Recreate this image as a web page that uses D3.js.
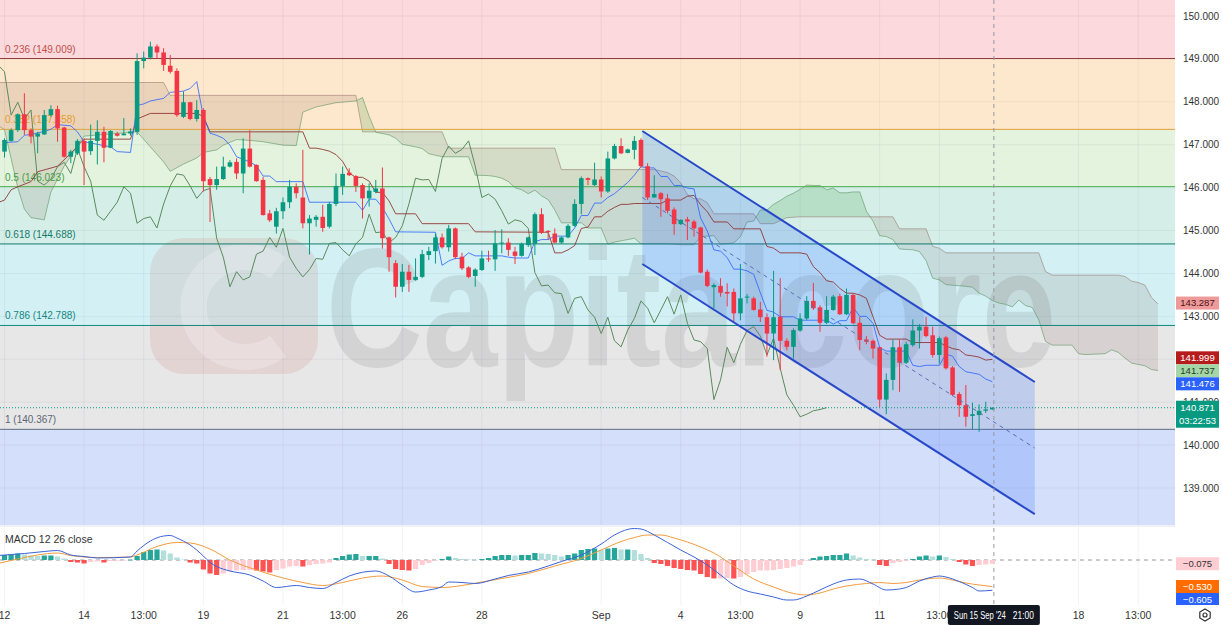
<!DOCTYPE html>
<html><head><meta charset="utf-8">
<script src="https://cdnjs.cloudflare.com/ajax/libs/d3/7.8.5/d3.min.js"></script>
<style>html,body{margin:0;padding:0;background:#fff;}svg{display:block;font-family:"Liberation Sans",Arial,sans-serif;}</style>
</head><body><svg id="c" width="1221" height="625"></svg>
<script>
// ---------------- DATA (4H candles, bar index 0 = 12 Aug 01:00) ----------------
const opens = [
146.84,147.09,147.34,147.71,147.34,147.19,147.24,147.69,147.83,147.40,
146.72,146.80,147.09,146.85,147.09,147.30,146.93,147.26,147.22,147.26,
147.30,148.95,149.03,149.29,149.15,148.84,148.72,147.65,147.99,147.60,
147.81,146.20,146.06,146.20,146.49,146.60,146.33,146.91,146.53,146.18,
145.40,145.09,145.45,145.66,146.02,145.77,145.17,145.25,145.32,145.09,
145.62,146.04,146.35,146.27,146.06,145.75,145.90,145.98,144.84,144.24,
143.69,144.04,143.85,143.92,144.43,144.52,144.84,144.61,145.05,144.39,
144.14,143.94,144.08,144.35,144.33,144.70,144.72,144.51,144.41,144.66,
144.69,145.38,144.99,144.93,144.72,144.84,145.11,145.62,146.22,146.06,
146.19,145.91,146.68,146.97,146.81,146.88,147.11,146.50,145.77,145.87,
145.75,145.49,145.15,145.26,145.21,145.07,144.04,143.68,143.71,143.57,
143.57,143.07,143.44,143.42,143.16,142.98,142.60,142.99,142.43,142.29,
142.67,142.95,143.36,143.21,142.85,143.15,143.47,143.05,143.50,142.85,
142.46,142.43,142.28,141.06,141.52,142.28,141.92,142.33,142.67,142.76,
142.56,142.10,142.51,141.81,141.19,140.93,140.68,140.70,140.80,140.83];
const highs = [
147.15,147.38,147.73,148.20,147.38,147.30,147.81,147.92,147.91,147.42,
146.88,147.13,147.15,147.47,147.57,147.42,147.34,147.30,147.62,147.38,
149.13,149.17,149.40,149.34,149.25,149.09,148.78,148.24,148.00,148.04,
147.85,146.25,146.49,146.72,146.64,146.68,147.15,147.34,146.54,146.25,
145.48,145.53,145.77,146.18,146.10,146.88,145.36,145.36,145.60,145.67,
146.33,146.49,146.45,146.29,146.10,146.10,146.18,146.47,144.86,144.31,
144.22,144.20,144.35,144.55,144.62,144.93,144.93,145.13,145.07,144.48,
144.17,144.12,144.53,144.53,145.01,145.03,144.82,144.62,144.72,144.86,
145.42,145.52,145.01,145.05,144.86,145.15,145.73,146.26,146.24,146.58,
146.26,146.84,147.02,147.15,146.91,147.20,147.15,146.57,146.29,145.90,
145.85,145.54,145.26,145.32,145.25,145.09,144.09,143.77,143.89,143.77,
143.65,144.22,143.52,143.46,143.34,143.07,144.06,143.89,142.49,142.72,
143.07,143.47,143.78,143.26,143.47,143.50,143.53,143.65,143.53,142.99,
142.54,142.46,142.29,141.67,142.46,142.46,142.41,142.93,142.82,142.99,
142.76,142.53,142.54,141.84,141.24,141.40,140.99,140.95,141.01,140.88];
const lows = [
146.70,147.07,147.30,147.23,147.03,146.80,147.23,147.65,147.07,146.70,
146.57,146.76,146.06,146.76,146.54,146.59,146.92,147.19,147.22,147.21,
147.23,148.78,148.99,149.01,148.72,148.66,147.65,147.62,147.57,147.54,
145.91,145.20,145.95,146.18,146.47,146.20,145.87,146.47,146.14,145.35,
145.20,144.93,145.27,145.52,145.75,145.05,144.44,145.09,144.97,145.05,
145.57,145.83,146.27,145.90,145.28,145.56,145.87,144.58,144.04,143.44,
143.57,143.57,143.83,143.89,144.31,144.23,144.58,144.51,144.33,144.08,
143.89,143.69,144.06,144.27,144.06,144.47,144.41,144.22,144.39,144.62,
144.43,144.92,144.78,144.70,144.69,144.82,145.09,145.38,146.06,146.04,
145.77,145.88,146.66,146.78,146.80,146.66,146.45,145.71,145.77,145.32,
145.40,144.90,145.13,144.78,144.86,144.00,143.68,143.19,143.46,143.23,
142.87,142.91,143.30,143.13,142.87,142.06,141.98,141.75,142.21,142.02,
142.64,142.91,143.15,142.64,142.82,143.13,143.03,143.03,142.82,142.21,
142.35,142.02,140.89,140.72,141.28,141.24,141.89,142.29,142.25,142.51,
142.04,141.90,141.76,141.14,140.66,140.43,140.37,140.31,140.75,140.82];
const closes = [
147.11,147.34,147.71,147.34,147.19,147.26,147.69,147.83,147.38,146.72,
146.84,147.09,146.84,147.09,147.30,146.93,147.32,147.21,147.26,147.31,
148.95,149.03,149.29,149.15,148.86,148.70,147.69,147.99,147.60,147.81,
146.15,146.06,146.20,146.49,146.59,146.33,146.91,146.49,146.15,145.36,
145.24,145.45,145.66,146.02,145.87,145.17,145.28,145.32,145.06,145.62,
146.04,146.32,146.29,146.04,145.75,145.93,145.98,144.82,144.38,143.69,
144.04,143.85,143.92,144.45,144.52,144.84,144.61,145.05,144.38,144.12,
143.92,144.09,144.35,144.33,144.70,144.72,144.55,144.41,144.69,144.84,
145.38,144.95,144.97,144.72,144.84,145.11,145.62,146.22,146.18,146.19,
145.91,146.68,146.97,146.80,146.89,147.09,146.50,145.77,145.85,145.73,
145.46,145.15,145.25,145.21,145.05,144.02,143.71,143.73,143.55,143.53,
143.07,143.42,143.46,143.15,142.98,142.60,142.98,142.43,142.29,142.68,
142.95,143.36,143.19,142.85,143.15,143.46,143.05,143.50,142.84,142.45,
142.41,142.25,141.06,141.52,142.28,141.92,142.35,142.67,142.76,142.54,
142.10,142.49,141.79,141.17,140.93,140.66,140.72,140.80,140.83,140.871];

// Ichimoku lines, read as [bar index, price] vertices
const tenkan = [[0,147.05],[2,147.07],[3,147.22],[4,147.24],[6,147.31],[7,147.36],[8,147.47],[10,147.44],[11,147.30],[12,147.07],[14,147.01],[16,146.95],[17,146.84],[19,146.82],[20,147.92],[21,147.95],[22,148.02],[24,148.08],[25,148.22],[27,148.25],[28,148.31],[29,148.47],[30,147.65],[31,147.27],[32,147.22],[33,147.15],[34,146.99],[35,146.72],[37,146.60],[38,146.51],[39,146.27],[40,146.27],[41,146.14],[45,146.14],[46,145.66],[53,145.66],[54,145.47],[55,145.73],[56,145.73],[57,145.54],[58,145.27],[59,144.97],[65,144.96],[66,144.19],[67,144.29],[68,144.35],[69,144.35],[70,144.48],[71,144.41],[75,144.41],[76,144.38],[77,144.36],[79,144.36],[80,144.74],[81,144.79],[82,144.79],[83,144.87],[85,144.87],[86,145.06],[87,145.35],[88,145.35],[89,145.64],[90,145.64],[91,145.77],[92,145.86],[93,145.99],[94,146.12],[95,146.29],[96,146.49],[97,146.46],[98,146.46],[99,146.26],[100,146.26],[101,146.05],[102,146.05],[103,145.99],[104,145.97],[105,145.29],[106,144.99],[107,144.55],[108,144.52],[109,144.37],[110,144.10],[111,144.10],[112,144.06],[113,143.98],[114,143.55],[115,143.14],[116,143.10],[117,142.99],[119,142.99],[120,142.91],[124,142.91],[125,142.82],[126,142.90],[127,142.90],[128,143.21],[129,143.00],[130,143.00],[131,142.84],[132,142.27],[133,142.19],[136,142.19],[137,141.86],[138,141.83],[139,141.86],[141,141.86],[142,142.12],[143,142.07],[144,141.83],[145,141.71],[146,141.68],[147,141.65],[148,141.54],[149,141.476]];
const kijun = [[-1,145.65],[0,145.71],[1,145.95],[2,146.02],[4,146.14],[5,146.37],[8,146.5],[10,146.8],[12,147.13],[19,147.13],[20,147.6],[22,147.73],[29,147.73],[30,147.66],[31,147.30],[45,147.30],[46,146.92],[47,146.92],[48,146.89],[49,146.85],[50,146.77],[51,146.61],[52,146.34],[53,146.24],[54,146.24],[55,146.15],[56,145.89],[57,145.89],[58,145.69],[59,145.39],[62,145.39],[63,145.16],[70,145.16],[71,144.97],[82,144.96],[83,144.48],[84,144.48],[85,144.55],[86,144.65],[87,145.05],[88,145.08],[89,145.32],[90,145.32],[91,145.45],[92,145.54],[93,145.61],[94,145.61],[95,145.63],[99,145.63],[100,145.71],[102,145.71],[103,145.80],[104,145.82],[105,145.60],[106,145.44],[107,145.20],[109,145.20],[110,145.04],[114,145.04],[115,144.63],[116,144.59],[117,144.48],[120,144.48],[121,144.45],[122,144.16],[123,144.02],[124,143.83],[125,143.80],[126,143.65],[127,143.54],[128,143.54],[129,143.50],[130,143.42],[131,142.99],[132,142.56],[133,142.47],[136,142.47],[137,142.39],[141,142.39],[142,142.31],[143,142.25],[144,142.22],[145,142.10],[146,142.08],[147,142.05],[148,141.98],[149,141.999]];
const spanA = [[-1,147.45],[0,147.35],[2,146.0],[3,145.5],[4,145.3],[6,145.25],[7,145.9],[9,146.5],[12,147.2],[20,147.3],[24,146.6],[25,146.38],[27,146.55],[29,146.69],[30,146.82],[32,146.88],[33,146.99],[35,147.12],[37,147.10],[39,147.07],[42,146.99],[44,146.98],[45,147.76],[47,147.88],[50,147.98],[53,148.02],[54,148.10],[55,147.66],[56,147.29],[58,147.23],[59,147.15],[60,147.01],[62,146.95],[63,146.91],[64,146.79],[66,146.72],[70,146.72],[71,146.29],[73,146.28],[74,146.26],[75,146.22],[76,146.14],[77,146.0],[78,145.95],[79,145.86],[80,145.94],[81,145.81],[82,145.72],[83,145.48],[84,145.18],[87,145.18],[88,145.06],[90,145.06],[91,144.68],[92,144.73],[93,144.76],[95,144.82],[96,144.69],[100,144.69],[102,144.67],[104,144.67],[105,144.86],[107,144.88],[108,144.68],[110,144.71],[111,144.86],[112,145.20],[113,145.22],[114,145.48],[115,145.48],[116,145.61],[117,145.70],[118,145.80],[119,145.87],[120,145.96],[121,146.06],[122,146.05],[123,146.05],[124,145.95],[125,145.99],[126,145.88],[127,145.88],[128,145.90],[129,145.90],[130,145.45],[131,145.22],[132,144.88],[133,144.86],[134,144.79],[135,144.57],[137,144.55],[138,144.51],[139,144.30],[140,143.89],[141,143.85],[142,143.74],[145,143.70],[146,143.68],[147,143.54],[148,143.47],[149,143.37],[150,143.31],[151,143.28],[152,143.22],[153,143.38],[154,143.25],[155,143.21],[156,142.92],[157,142.42],[158,142.33],[161,142.33],[162,142.13],[163,142.11],[166,142.13],[167,142.22],[168,142.16],[169,142.03],[170,141.91],[171,141.88],[172,141.85],[173,141.76],[174,141.737]];
const spanB = [[-1,148.45],[24,148.45],[25,148.15],[53,148.15],[54,147.30],[66,147.30],[67,146.92],[83,146.92],[84,146.42],[98,146.42],[99,146.39],[100,146.35],[101,146.27],[102,146.11],[103,145.84],[104,145.74],[105,145.74],[106,145.65],[107,145.39],[113,145.39],[114,145.16],[116,145.16],[117,145.23],[118,145.30],[120,145.32],[134,145.32],[135,145.04],[139,145.04],[140,144.63],[141,144.59],[142,144.48],[156,144.48],[157,144.05],[158,143.96],[168,143.96],[169,143.93],[170,143.82],[171,143.79],[172,143.73],[173,143.44],[174,143.287]];
const laggingShift = 25;

// Fibonacci retracement
const fibLevels = ["0.236","0.382","0.5","0.618","0.786","1"];
const fibPrices = [149.009,147.358,146.023,144.688,142.788,140.367];
// Descending channel drawing: [bar index, price]
const chanUpper = [[96.2,147.32],[155.4,141.47]];
const chanLower = [[96.2,144.22],[155.4,138.39]];

// MACD 12 26
const macdHist = [
0.10,0.11,0.13,0.11,0.09,0.08,0.09,0.09,0.07,0.03,
-0.04,-0.05,-0.07,-0.04,-0.03,-0.05,-0.02,-0.015,-0.01,0.005,
0.08,0.16,0.20,0.21,0.19,0.13,0.05,0.01,-0.05,-0.07,
-0.19,-0.27,-0.30,-0.27,-0.23,-0.21,-0.20,-0.20,-0.21,-0.23,
-0.25,-0.20,-0.17,-0.13,-0.12,-0.13,-0.10,-0.08,-0.07,-0.05,
0.04,0.08,0.11,0.12,0.08,0.08,0.08,0.03,-0.08,-0.18,
-0.20,-0.21,-0.18,-0.10,-0.06,-0.01,0.02,0.07,0.04,0.02,
0.01,0.005,0.02,0.04,0.08,0.10,0.10,0.09,0.10,0.10,
0.14,0.13,0.12,0.10,0.07,0.10,0.13,0.20,0.22,0.23,
0.20,0.23,0.24,0.21,0.21,0.20,0.12,0.04,-0.06,-0.08,
-0.12,-0.16,-0.18,-0.20,-0.21,-0.28,-0.34,-0.37,-0.37,-0.36,
-0.37,-0.34,-0.28,-0.24,-0.21,-0.21,-0.20,-0.18,-0.16,-0.13,
-0.10,-0.005,0.04,0.07,0.08,0.10,0.10,0.13,0.09,0.05,
0.02,0.005,-0.10,-0.12,-0.06,-0.04,-0.005,0.02,0.07,0.09,
0.07,0.09,0.06,0.02,-0.04,-0.09,-0.12,-0.10,-0.09,-0.075];
const macdLine = [[-1,0.09],[3,0.13],[6,0.17],[8,0.19],[10,0.10],[12,0.07],[14,0.04],[19,0.06],[20,0.18],[22,0.38],[24,0.48],[25,0.49],[26,0.44],[28,0.30],[30,0.08],[31,-0.05],[32,-0.13],[34,-0.22],[37,-0.30],[39,-0.42],[41,-0.55],[44,-0.51],[46,-0.55],[48,-0.57],[50,-0.45],[52,-0.32],[56,-0.22],[58,-0.32],[60,-0.50],[62,-0.64],[64,-0.60],[66,-0.53],[67,-0.44],[69,-0.45],[71,-0.47],[74,-0.38],[76,-0.31],[79,-0.24],[82,-0.12],[84,-0.03],[87,0.10],[90,0.32],[92,0.50],[95,0.63],[96,0.62],[98,0.50],[100,0.35],[102,0.20],[104,0.06],[106,-0.10],[108,-0.30],[110,-0.50],[112,-0.62],[114,-0.68],[116,-0.74],[118,-0.80],[119,-0.80],[121,-0.72],[123,-0.60],[125,-0.48],[127,-0.40],[129,-0.38],[131,-0.48],[133,-0.60],[135,-0.58],[136,-0.55],[138,-0.42],[140,-0.34],[141,-0.32],[142,-0.34],[144,-0.43],[146,-0.55],[147,-0.62],[149,-0.605]];
const signalLine = [[-1,-0.07],[2,0.02],[5,0.10],[8,0.14],[10,0.09],[14,0.05],[19,0.06],[20,0.10],[23,0.27],[26,0.35],[28,0.34],[31,0.22],[34,0.0],[38,-0.20],[42,-0.36],[45,-0.45],[48,-0.51],[51,-0.45],[54,-0.36],[57,-0.32],[60,-0.40],[63,-0.53],[66,-0.55],[69,-0.51],[72,-0.44],[75,-0.37],[79,-0.27],[83,-0.12],[87,0.03],[90,0.20],[93,0.37],[95,0.45],[97,0.50],[99,0.50],[101,0.44],[103,0.36],[105,0.26],[107,0.14],[110,-0.12],[113,-0.38],[116,-0.54],[119,-0.67],[121,-0.70],[123,-0.66],[125,-0.58],[127,-0.52],[130,-0.47],[132,-0.45],[134,-0.47],[136,-0.45],[138,-0.40],[141,-0.36],[143,-0.40],[145,-0.46],[147,-0.50],[149,-0.53]];

// Axis ticks (142.000 is hidden behind the base-line tag in the reference)
const priceTicks = [150,149,148,147,146,145,144,143,141,140,139];
const gridPrices = [150,149,148,147,146,145,144,143,142,141,140,139];
const timeTickIdx = [0,12,21,30,42,51,60,72,90,102,111,120,132,141,162,171];
const timeTickText = ["12","14","13:00","19","21","13:00","26","28","Sep","4","13:00","9","11","13:00","18","13:00"];
const lastPrice = 140.871, lastCountdown = "03:22:53";
const crosshairText = ["Sun 15 Sep '24","21:00"];

// ---------------- LAYOUT ----------------
const PR = 1175, MAIN_B = 525, M_T = 527, M_B = 605;
const svg = d3.select("#c");
const x = d3.scaleLinear().domain([0,149]).range([4.5, 4.5 + 6.63*149]);
const y = d3.scaleLinear().domain([150,139]).range([16,488]);
const ym = d3.scaleLinear().domain([0,-0.53]).range([560,586.5]);
const bw = 4.6;

const defs = svg.append("defs");
defs.append("clipPath").attr("id","mainClip").append("rect").attr("x",0).attr("y",0).attr("width",PR).attr("height",MAIN_B);
defs.append("clipPath").attr("id","macdClip").append("rect").attr("x",0).attr("y",M_T).attr("width",PR).attr("height",M_B-M_T);

svg.append("rect").attr("width",1221).attr("height",625).attr("fill","#ffffff");
const main = svg.append("g").attr("clip-path","url(#mainClip)");

// Fibonacci bands
const bandColors = ["#fbd9dc","#fee8cd","#e3f3dd","#d5efe8","#d3f1f5","#e7e7e8","#d4dffb"];
const edges = [y.invert(-2), ...fibPrices, y.invert(MAIN_B+2)];
bandColors.forEach((c,k)=>{
  main.append("rect").attr("x",0).attr("width",PR)
    .attr("y", y(edges[k])).attr("height", y(edges[k+1]) - y(edges[k])).attr("fill", c);
});
// grid
main.selectAll(".vg").data(timeTickIdx).enter().append("line")
  .attr("x1",d=>x(d)).attr("x2",d=>x(d)).attr("y1",0).attr("y2",MAIN_B)
  .attr("stroke","rgba(90,90,110,0.07)");
main.selectAll(".hg").data(gridPrices).enter().append("line")
  .attr("x1",0).attr("x2",PR).attr("y1",d=>y(d)).attr("y2",d=>y(d))
  .attr("stroke","rgba(90,90,110,0.07)");

// watermark (logo + word mark drawn as shapes/text)
const wm = main.append("g");
wm.append("rect").attr("x",150).attr("y",238).attr("width",168).attr("height",136).attr("rx",34)
  .attr("fill","#c9574f").attr("opacity",0.13);
wm.append("path").attr("d","M 278 268 A 52 50 0 1 0 278 346").attr("fill","none")
  .attr("stroke","#ffffff").attr("stroke-width",26).attr("opacity",0.22);
wm.append("text").attr("x",326).attr("y",366).attr("font-size",168).attr("font-weight","bold")
  .attr("textLength",730).attr("lengthAdjust","spacingAndGlyphs")
  .attr("fill","#6e6e74").attr("opacity",0.16).text("Capitalcore");

// Ichimoku cloud
const topArea = d3.area().x(d=>x(d[0])).y0(-5).y1(d=>y(d[1]));
const botArea = d3.area().x(d=>x(d[0])).y0(MAIN_B+5).y1(d=>y(d[1]));
defs.append("clipPath").attr("id","belowA").append("path").attr("d", botArea(spanA));
defs.append("clipPath").attr("id","belowB").append("path").attr("d", botArea(spanB));
main.append("g").attr("clip-path","url(#belowA)").append("path").attr("d", topArea(spanB))
  .attr("fill","rgba(67,160,71,0.20)");
main.append("g").attr("clip-path","url(#belowB)").append("path").attr("d", topArea(spanA))
  .attr("fill","rgba(130,95,80,0.15)");
const line = d3.line().x(d=>x(d[0])).y(d=>y(d[1]));
main.append("path").attr("d", line(spanA)).attr("fill","none").attr("stroke","rgba(80,140,85,0.55)").attr("stroke-width",1);
main.append("path").attr("d", line(spanB)).attr("fill","none").attr("stroke","rgba(140,105,95,0.5)").attr("stroke-width",1);

// Fib lines & labels
const fibLineColors = ["#8e3b3b","#e3a13a","#4caf50","#137a6c","#14857f","#5d6b7d"];
const fibTextColors = ["#c2504d","#e39b2d","#43a047","#167a6d","#15877f","#5d6673"];
fibPrices.forEach((p,k)=>{
  main.append("line").attr("x1",0).attr("x2",PR).attr("y1",y(p)).attr("y2",y(p))
    .attr("stroke",fibLineColors[k]).attr("stroke-width",1);
  main.append("text").attr("x",5).attr("y",y(p)-6).attr("font-size",10).attr("fill",fibTextColors[k])
    .text(fibLevels[k]+" ("+p.toFixed(3).replace(/0$/,"")+")");
});

// Channel fill
const chanPoly = [chanUpper[0],chanUpper[1],chanLower[1],chanLower[0]];
main.append("path").attr("d", "M"+chanPoly.map(d=>x(d[0])+","+y(d[1])).join("L")+"Z")
  .attr("fill","rgba(41,98,255,0.20)");

// Ichimoku lines
const lagging = closes.slice(laggingShift-1).map((c,k)=>[k-1,c]);
main.append("path").attr("d", line(lagging)).attr("fill","none").attr("stroke","#5b8a5d").attr("stroke-width",1);
main.append("path").attr("d", line(kijun)).attr("fill","none").attr("stroke","#8d2f2a").attr("stroke-width",1).attr("opacity",0.85);
main.append("path").attr("d", line(tenkan)).attr("fill","none").attr("stroke","#2962ff").attr("stroke-width",1).attr("opacity",0.8);

// Candles
const up = "#089981", dn = "#f23645";
const cg = main.append("g");
cg.selectAll(".wk").data(closes).enter().append("line")
  .attr("x1",(d,i)=>x(i)).attr("x2",(d,i)=>x(i))
  .attr("y1",(d,i)=>y(highs[i])).attr("y2",(d,i)=>y(lows[i]))
  .attr("stroke",(d,i)=>d>=opens[i]?up:dn).attr("stroke-width",1);
cg.selectAll(".bd").data(closes).enter().append("rect")
  .attr("x",(d,i)=>x(i)-bw/2).attr("width",bw)
  .attr("y",(d,i)=>y(Math.max(d,opens[i])))
  .attr("height",(d,i)=>Math.max(1,Math.abs(y(d)-y(opens[i]))))
  .attr("fill",(d,i)=>d>=opens[i]?up:dn);

// Channel lines
const chanMid = [[chanUpper[0][0],(chanUpper[0][1]+chanLower[0][1])/2],[chanUpper[1][0],(chanUpper[1][1]+chanLower[1][1])/2]];
main.append("path").attr("d", line(chanUpper)).attr("stroke","#2748c9").attr("stroke-width",2).attr("fill","none");
main.append("path").attr("d", line(chanLower)).attr("stroke","#2748c9").attr("stroke-width",2).attr("fill","none");
main.append("path").attr("d", line(chanMid)).attr("stroke","#5b6fb5").attr("stroke-width",1).attr("stroke-dasharray","4,4").attr("fill","none");

// last price dotted line
main.append("line").attr("x1",0).attr("x2",PR).attr("y1",y(lastPrice)).attr("y2",y(lastPrice))
  .attr("stroke","#089981").attr("stroke-width",1).attr("stroke-dasharray","1,2");

// crosshair vertical
svg.append("line").attr("x1",x(149)+1.5).attr("x2",x(149)+1.5).attr("y1",0).attr("y2",M_B)
  .attr("stroke","#9598a1").attr("stroke-width",1).attr("stroke-dasharray","4,4");

// ---------------- MACD pane ----------------
svg.append("line").attr("x1",0).attr("x2",PR).attr("y1",MAIN_B+1).attr("y2",MAIN_B+1).attr("stroke","#e0e3eb");
const mp = svg.append("g").attr("clip-path","url(#macdClip)");
mp.selectAll(".vg").data(timeTickIdx).enter().append("line")
  .attr("x1",d=>x(d)).attr("x2",d=>x(d)).attr("y1",M_T).attr("y2",M_B).attr("stroke","rgba(90,90,110,0.07)");
mp.append("line").attr("x1",0).attr("x2",PR).attr("y1",ym(0)).attr("y2",ym(0))
  .attr("stroke","#9598a1").attr("stroke-dasharray","4,4").attr("stroke-width",1);
mp.selectAll(".hb").data(macdHist).enter().append("rect")
  .attr("x",(d,i)=>x(i)-2.6).attr("width",5.2)
  .attr("y",d=>Math.min(ym(d),ym(0))).attr("height",d=>Math.max(0.6,Math.abs(ym(d)-ym(0))))
  .attr("fill",(d,i)=>{const p = i>0?macdHist[i-1]:d;
    if(d>=0) return d>=p?"#26a69a":"#b2dfdb"; return d<p?"#ff5252":"#ffcdd2";});
const mline = d3.line().x(d=>x(d[0])).y(d=>ym(d[1])).curve(d3.curveMonotoneX);
mp.append("path").attr("d", mline(signalLine)).attr("fill","none").attr("stroke","#f39c3d").attr("stroke-width",1);
mp.append("path").attr("d", mline(macdLine)).attr("fill","none").attr("stroke","#3b63d8").attr("stroke-width",1);
svg.append("text").attr("x",5).attr("y",543).attr("font-size",10.5).attr("fill","#333").text("MACD 12 26 close");

// ---------------- Right price axis ----------------
svg.append("rect").attr("x",PR).attr("y",0).attr("width",1221-PR).attr("height",625).attr("fill","#fff");
svg.selectAll(".pt").data(priceTicks).enter().append("text")
  .attr("x",1183).attr("y",d=>y(d)+3.5).attr("font-size",10).attr("fill","#333")
  .text(d=>d.toFixed(3));
function tag(yc, txt, bg, fg){
  svg.append("rect").attr("x",1176).attr("y",yc-6.5).attr("width",43).attr("height",13).attr("fill",bg);
  svg.append("text").attr("x",1197.5).attr("y",yc+3.4).attr("text-anchor","middle").attr("font-size",9.5).attr("fill",fg).text(txt);
}
const lastA = spanA[spanA.length-1][1], lastB = spanB[spanB.length-1][1];
const lastK = kijun[kijun.length-1][1], lastT = tenkan[tenkan.length-1][1];
tag(y(lastB)-1, lastB.toFixed(3), "#ef9a9a", "#4a1010");
tag(y(lastK)-1.5, lastK.toFixed(3), "#b71c1c", "#ffffff");
tag(y(lastK)+11.5, lastA.toFixed(3), "#a5d6a7", "#1b3d1c");
tag(y(lastK)+24.5, lastT.toFixed(3), "#2962ff", "#ffffff");
svg.append("rect").attr("x",1176).attr("y",y(lastPrice)-7).attr("width",43).attr("height",27).attr("fill","#089981");
svg.append("text").attr("x",1197.5).attr("y",y(lastPrice)+3.3).attr("text-anchor","middle").attr("font-size",9.5).attr("fill","#fff").text(lastPrice.toFixed(3));
svg.append("text").attr("x",1197.5).attr("y",y(lastPrice)+16.3).attr("text-anchor","middle").attr("font-size",9.5).attr("fill","#fff").text(lastCountdown);
const fmt = v => (v<0?"\u2212":"")+Math.abs(v).toFixed(3);
const hLast = macdHist[macdHist.length-1], sLast = signalLine[signalLine.length-1][1], mLast = macdLine[macdLine.length-1][1];
tag(ym(hLast), fmt(hLast), "#ffcdd2", "#333");
tag(ym(sLast), fmt(sLast), "#ff6d00", "#fff");
tag(Math.max(ym(mLast), ym(sLast)+13), fmt(mLast), "#2962ff", "#fff");

// ---------------- Time axis ----------------
svg.append("rect").attr("x",0).attr("y",M_B).attr("width",1221).attr("height",625-M_B).attr("fill","#fff");
svg.selectAll(".tt").data(timeTickIdx).enter().append("text")
  .attr("x",d=>x(d)).attr("y",619).attr("text-anchor","middle").attr("font-size",10.5).attr("fill","#333")
  .text((d,k)=>timeTickText[k]);
const cx = x(149)+1.5;
svg.append("rect").attr("x",cx-46).attr("y",M_B).attr("width",92).attr("height",20).attr("rx",2).attr("fill","#131722");
svg.append("text").attr("x",cx-40).attr("y",619).attr("font-size",10).attr("fill","#fff")
  .attr("textLength",52).attr("lengthAdjust","spacingAndGlyphs").text(crosshairText[0]);
svg.append("text").attr("x",cx+19).attr("y",619).attr("font-size",10).attr("fill","#fff")
  .attr("textLength",21).attr("lengthAdjust","spacingAndGlyphs").text(crosshairText[1]);
// settings icon
const hex = d3.range(6).map(k=>[1205+6*Math.cos(Math.PI/3*k+Math.PI/6), 615+6*Math.sin(Math.PI/3*k+Math.PI/6)]);
svg.append("path").attr("d","M"+hex.join("L")+"Z").attr("fill","none").attr("stroke","#333").attr("stroke-width",1.2);
svg.append("circle").attr("cx",1205).attr("cy",615).attr("r",2).attr("fill","none").attr("stroke","#333").attr("stroke-width",1.2);
</script></body></html>
